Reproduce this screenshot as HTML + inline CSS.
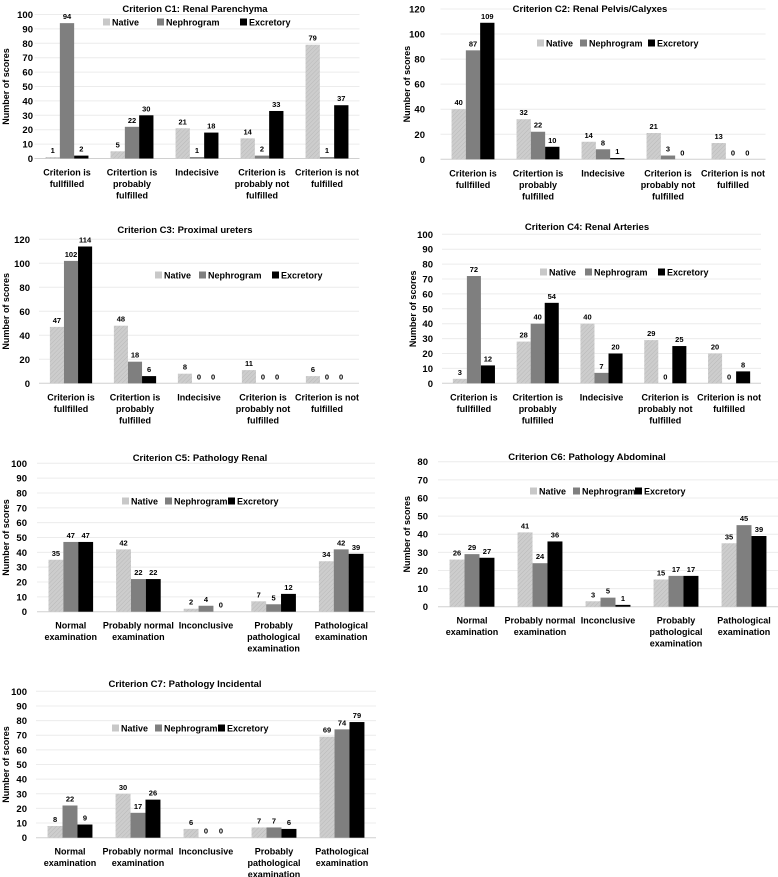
<!DOCTYPE html>
<html><head><meta charset="utf-8">
<style>
html,body{margin:0;padding:0;background:#fff;}
svg{display:block;font-family:"Liberation Sans",sans-serif;font-weight:bold;}
</style></head>
<body>
<svg id="fig" width="778" height="877" viewBox="0 0 778 877" xmlns="http://www.w3.org/2000/svg">
<defs>
<pattern id="hatch" patternUnits="userSpaceOnUse" width="3" height="3" patternTransform="rotate(45)">
<rect width="3" height="3" fill="#cdcdcd"/><line x1="0" y1="0" x2="0" y2="3" stroke="#b9b9b9" stroke-width="1"/>
</pattern>
</defs>
</svg>
<script>
const catsA = ["Criterion is|fullfilled","Critertion is|probably|fulfilled","Indecisive","Criterion is|probably not|fulfilled","Criterion is not|fulfilled"];
const catsB = ["Normal|examination","Probably normal|examination","Inconclusive","Probably|pathological|examination","Pathological|examination"];
const seriesNames = ["Native","Nephrogram","Excretory"];
const titles = ["Criterion C1: Renal Parenchyma","Criterion C2: Renal Pelvis/Calyxes","Criterion C3: Proximal ureters","Criterion C4: Renal Arteries","Criterion C5: Pathology Renal","Criterion C6: Pathology Abdominal","Criterion C7: Pathology Incidental"];
const c1Native=[1,5,21,14,79], c1Nephro=[94,22,1,2,1], c1Excr=[2,30,18,33,37];
const c2Native=[40,32,14,21,13], c2Nephro=[87,22,8,3,0], c2Excr=[109,10,1,0,0];
const c3Native=[47,48,8,11,6], c3Nephro=[102,18,0,0,0], c3Excr=[114,6,0,0,0];
const c4Native=[3,28,40,29,20], c4Nephro=[72,40,7,0,0], c4Excr=[12,54,20,25,8];
const c5Native=[35,42,2,7,34], c5Nephro=[47,22,4,5,42], c5Excr=[47,22,0,12,39];
const c6Native=[26,41,3,15,35], c6Nephro=[29,24,5,17,45], c6Excr=[27,36,1,17,39];
const c7Native=[8,30,6,7,69], c7Nephro=[22,17,0,7,74], c7Excr=[9,26,0,6,79];
const yMaxes=[100,120,120,100,100,80,100];
const ySteps=[10,20,20,10,10,10,10];

const layouts=[
 {x0:34.5,x1:359.5,y0:158.5,yt:14.5,tickR:33,ylx:6,ty:8,tx:195,ly:22,lx:[103,157,240],cats:catsA},
 {x0:440.5,x1:765.5,y0:159.3,yt:9,tickR:425,ylx:407,ty:8,tx:590,ly:43,lx:[537,580,648],cats:catsA},
 {x0:39,x1:359,y0:383.3,yt:239.3,tickR:30,ylx:6,ty:229,tx:185,ly:275,lx:[155,199,272],cats:catsA},
 {x0:442,x1:761,y0:383.3,yt:234.3,tickR:433,ylx:413,ty:226,tx:587,ly:272,lx:[540,585,658],cats:catsA},
 {x0:37,x1:375,y0:611.7,yt:463.3,tickR:27,ylx:6,ty:457,tx:200,ly:501,lx:[122,165,228],cats:catsB},
 {x0:438,x1:778,y0:606.7,yt:461.7,tickR:428,ylx:407,ty:456,tx:587,ly:491,lx:[530,573,635],cats:catsB},
 {x0:36,x1:376,y0:837.7,yt:691.3,tickR:27,ylx:6,ty:683,tx:185,ly:728,lx:[112,155,218],cats:catsB}
];
const allData=[[c1Native,c1Nephro,c1Excr],[c2Native,c2Nephro,c2Excr],[c3Native,c3Nephro,c3Excr],[c4Native,c4Nephro,c4Excr],[c5Native,c5Nephro,c5Excr],[c6Native,c6Nephro,c6Excr],[c7Native,c7Nephro,c7Excr]];
const fills=["url(#hatch)","#7f7f7f","#000"];
const legFills=["#c8c8c8","#7f7f7f","#000"];
const NS="http://www.w3.org/2000/svg";
const svg=document.getElementById("fig");
function mk(tag,attrs,parent,text){const e=document.createElementNS(NS,tag);for(const k in attrs)e.setAttribute(k,attrs[k]);if(text!==undefined)e.textContent=text;parent.appendChild(e);return e;}

layouts.forEach((L,ci)=>{
 const g=mk("g",{},svg);
 
 
 const ymax=yMaxes[ci], step=ySteps[ci];
 const yS=v=>L.y0-(L.y0-L.yt)*v/ymax;
 const n=L.cats.length, band=(L.x1-L.x0)/n;
 const xC=i=>L.x0+band*(i+0.5);
 for(let v=0;v<=ymax;v+=step){
  const gl=mk("line",{x1:L.x0,x2:L.x1,y1:yS(v),y2:yS(v),stroke:v===0?"#d0d0d0":"#ececec","stroke-width":1},g);
  
  
  const t=mk("text",{x:L.tickR,y:yS(v)+3.5,"text-anchor":"end","font-size":"9.5"},g,String(v));
  
  
 }
 const tt=mk("text",{x:L.tx,y:L.ty+4,"text-anchor":"middle","font-size":"9.5"},g,titles[ci]);
 
 
 const ym=(L.y0+L.yt)/2;
 const yl=mk("text",{x:0,y:0,"text-anchor":"middle","font-size":"9",transform:`translate(${L.ylx+3},${ym}) rotate(-90)`},g,"Number of scores");
 
 
 const bw=band*0.22;
 const data=allData[ci];
 L.cats.forEach((c,i)=>{
  data.forEach((ser,s)=>{
   const v=ser[i];
   const bx=xC(i)+(s-1.5)*bw;
   const r=mk("rect",{x:bx,y:yS(v),width:bw,height:L.y0-yS(v),fill:fills[s]},g);
   
   
   const lt=mk("text",{x:bx+bw/2,y:yS(v)-4,"text-anchor":"middle","font-size":"7.5"},g,String(v));
   
   
  });
  c.split("|").forEach((line,k)=>{
   const ct=mk("text",{x:xC(i),y:L.y0+17+k*11.5,"text-anchor":"middle","font-size":"9"},g,line);
   
   
  });
 });
 seriesNames.forEach((nm,s)=>{
  const sq=mk("rect",{x:L.lx[s],y:L.ly-3.5,width:7,height:7,fill:legFills[s]},g);
  
  
  const lt=mk("text",{x:L.lx[s]+9,y:L.ly+3.5,"font-size":"9"},g,nm);
  
  
 });
});
</script>
</body></html>
